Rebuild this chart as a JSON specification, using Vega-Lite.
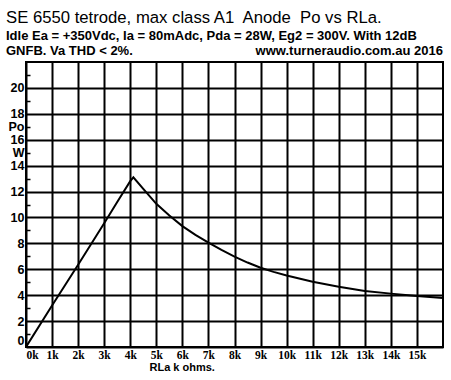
{
  "$schema": "https://vega.github.io/schema/vega-lite/v6.json",
  "width": 417,
  "height": 285,
  "autosize": "none",
  "padding": {"left": 26, "top": 62, "right": 8, "bottom": 33},
  "background": "white",
  "title": {
    "text": "SE 6550 tetrode, max class A1\u00a0 Anode\u00a0 Po vs RLa.",
    "subtitle": [
      "Idle Ea = +350Vdc, Ia = 80mAdc, Pda = 28W, Eg2 = 300V. With 12dB",
      "GNFB. Va THD < 2%.\u00a0\u00a0\u00a0\u00a0\u00a0\u00a0\u00a0\u00a0\u00a0\u00a0\u00a0\u00a0\u00a0\u00a0\u00a0\u00a0\u00a0\u00a0\u00a0\u00a0\u00a0\u00a0\u00a0\u00a0\u00a0\u00a0\u00a0\u00a0\u00a0\u00a0\u00a0\u00a0\u00a0 www.turneraudio.com.au 2016"
    ],
    "anchor": "start",
    "frame": "group",
    "dx": -20,
    "offset": 4,
    "font": "Liberation Sans",
    "fontSize": 16.7,
    "fontWeight": "normal",
    "color": "black",
    "subtitleFont": "Liberation Sans",
    "subtitleFontSize": 13,
    "subtitleFontWeight": "bold",
    "subtitleColor": "black",
    "subtitlePadding": 3,
    "subtitleLineHeight": 15
  },
  "config": {
    "view": {"stroke": "black", "strokeWidth": 2},
    "axis": {"domain": false, "gridColor": "black", "gridWidth": 2, "gridOpacity": 1, "labelColor": "black", "titleColor": "black"}
  },
  "data": {
    "values": [
      {"k": 0, "po": 0},
      {"k": 1, "po": 3.2},
      {"k": 2, "po": 6.35},
      {"k": 3, "po": 9.55},
      {"k": 3.5, "po": 11.2},
      {"k": 4, "po": 12.8},
      {"k": 4.12, "po": 13.1},
      {"k": 4.5, "po": 12.2},
      {"k": 5, "po": 11.05},
      {"k": 5.5, "po": 10.15},
      {"k": 6, "po": 9.33},
      {"k": 6.5, "po": 8.65},
      {"k": 7, "po": 8.05},
      {"k": 7.5, "po": 7.5},
      {"k": 8, "po": 6.98},
      {"k": 8.5, "po": 6.52},
      {"k": 9, "po": 6.12},
      {"k": 9.5, "po": 5.8},
      {"k": 10, "po": 5.52},
      {"k": 11, "po": 5.03},
      {"k": 12, "po": 4.65},
      {"k": 13, "po": 4.33},
      {"k": 14, "po": 4.12},
      {"k": 15, "po": 3.94},
      {"k": 16, "po": 3.78}
    ]
  },
  "mark": {"type": "line", "color": "black", "strokeWidth": 2, "clip": true},
  "encoding": {
    "x": {
      "field": "k",
      "type": "quantitative",
      "scale": {"domain": [0, 16], "nice": false, "zero": false},
      "axis": {
        "values": [0, 1, 2, 3, 4, 5, 6, 7, 8, 9, 10, 11, 12, 13, 14, 15],
        "labelExpr": "datum.value + 'k'",
        "grid": true,
        "ticks": false,
        "tickSize": 0,
        "labelFlush": true,
        "labelFont": "Liberation Sans Narrow",
        "labelFontSize": 11.5,
        "labelFontWeight": "bold",
        "labelBaseline": "alphabetic",
        "labelPadding": 11.5,
        "title": "RLa k ohms.",
        "titleFont": "Liberation Sans",
        "titleFontSize": 11,
        "titleFontWeight": "bold",
        "titleAlign": "left",
        "titleBaseline": "alphabetic",
        "titleX": 123,
        "titleY": 23
      }
    },
    "y": {
      "field": "po",
      "type": "quantitative",
      "scale": {"domain": [0, 22], "nice": false},
      "axis": {
        "values": [0, 1, 2, 3, 4, 5, 6, 7, 8, 9, 10, 11, 12, 13, 14, 15, 16, 17, 18, 19, 20, 21],
        "labelExpr": "datum.value % 2 == 0 ? datum.value : (datum.value == 17 ? 'Po' : (datum.value == 15 ? 'W' : ''))",
        "grid": true,
        "gridOpacity": {"condition": {"test": "datum.value % 2 == 1", "value": 0}, "value": 1},
        "ticks": true,
        "tickSize": -4,
        "tickWidth": 1.5,
        "tickColor": "black",
        "tickOpacity": {"condition": {"test": "datum.value % 2 == 1", "value": 1}, "value": 0},
        "labelFlush": true,
        "labelFont": "Liberation Sans",
        "labelFontSize": 12.5,
        "labelFontWeight": "bold",
        "labelPadding": 6,
        "title": null
      }
    }
  }
}
